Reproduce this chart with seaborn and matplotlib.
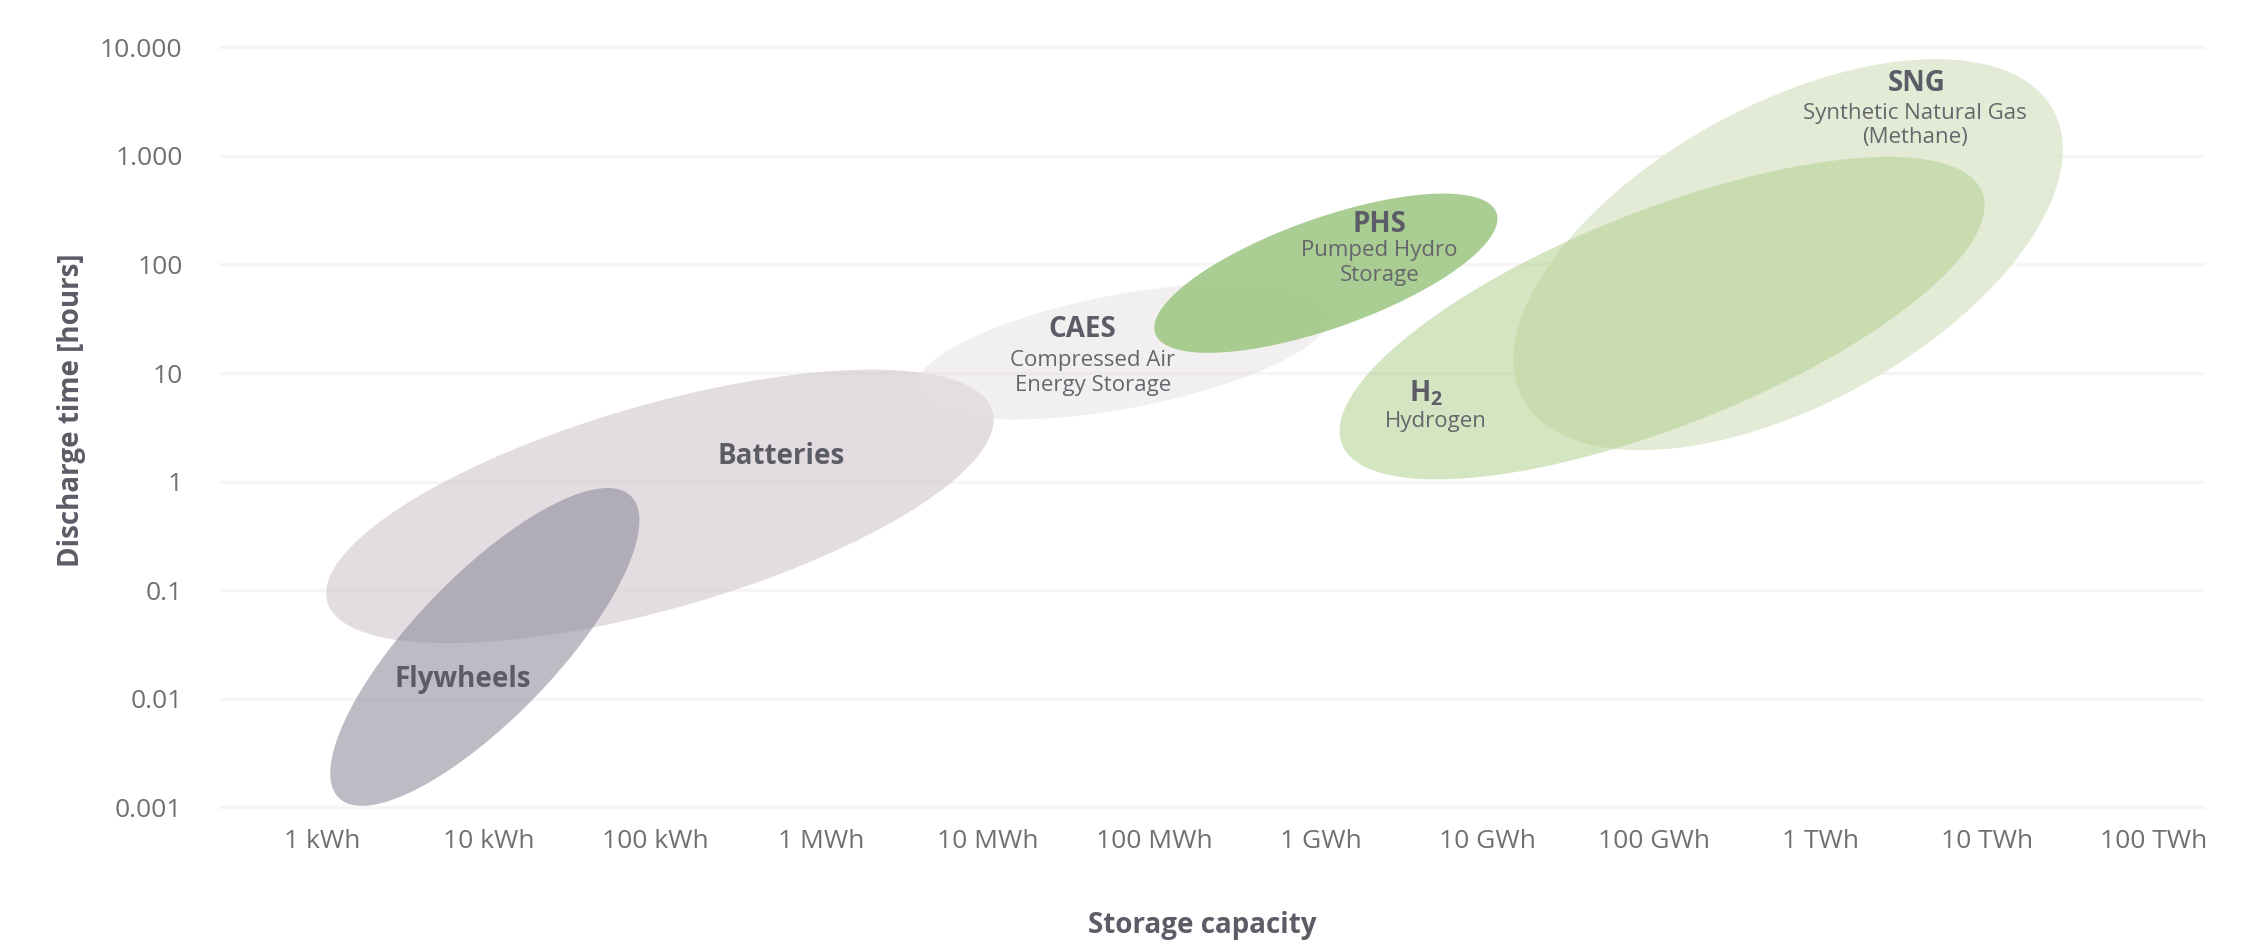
import numpy as np
import matplotlib
matplotlib.use("Agg")
import matplotlib.pyplot as plt
import seaborn as sns

# storage technologies: centre of each region (kWh, hours), shape in pixels
techs = ["Batteries", "CAES", "Flywheels", "PHS", "SNG", "H2"]
cap_centre = [107, 64600, 9.5, 1.07e6, 6.4e8, 1.12e8]       # kWh
time_centre = [0.59, 15.8, 0.03, 83, 123, 32]               # hours
semi_major = [346, 211, 210, 181, 302, 344]                 # px
semi_minor = [102, 57, 71, 55, 150, 108]                    # px
tilt = [16, 10.6, 46, 19.5, 28.6, 21.5]                     # degrees on screen
face = ["#d8ced3", "#e6e0e4", "#918f9e", "#a0c886", "#dde7cc", "#b2d090"]
alphas = [0.7, 0.5, 0.6, 0.9, 0.8, 0.55]

# labels: bold name + small description
names = ["Batteries", "CAES", "Flywheels", "PHS", "SNG", r"$\mathbf{H}_\mathbf{2}$"]
name_x = [575, 37000, 7, 2.24e6, 3.8e9, 4.25e6]
name_y = [1.7, 25, 0.015, 234, 4650, 6.5]
descr = ["", "Compressed Air\nEnergy Storage", "", "Pumped Hydro\nStorage",
         "Synthetic Natural Gas\n(Methane)", "Hydrogen"]
descr_x = [1, 42600, 1, 2.24e6, 3.7e9, 4.9e6]
descr_y = [1, 10, 1, 103, 1900, 3.6]

x_ticks = 10.0 ** np.arange(12)
x_labels = ["1 kWh", "10 kWh", "100 kWh", "1 MWh", "10 MWh", "100 MWh",
            "1 GWh", "10 GWh", "100 GWh", "1 TWh", "10 TWh", "100 TWh"]
y_ticks = 10.0 ** np.arange(-3, 5)
y_labels = ["0.001", "0.01", "0.1", "1", "10", "100", "1.000", "10.000"]

sns.set_theme(style="white")
plt.rcParams["font.family"] = ["Open Sans", "DejaVu Sans"]
plt.rcParams["mathtext.fontset"] = "custom"
plt.rcParams["mathtext.bf"] = "Open Sans:bold"
plt.rcParams["mathtext.rm"] = "Open Sans"

W, H = 2249, 944
fig = plt.figure(figsize=(W / 100, H / 100), dpi=100)
fig.patch.set_facecolor("white")
ax = fig.add_axes([220 / W, 1 - 829 / H, 1985 / W, 798 / H])
ax.set_xscale("log")
ax.set_yscale("log")
xlo, xhi = -0.613, 11.31
ylo, yhi = -3.2, 4.15
ax.set_xlim(10 ** xlo, 10 ** xhi)
ax.set_ylim(10 ** ylo, 10 ** yhi)

# pixels per decade, so the ellipses keep their on-screen shape
px_x = 1985 / (xhi - xlo)
px_y = 798 / (yhi - ylo)

t = np.linspace(0, 2 * np.pi, 300)
for i in range(len(techs)):
    th = np.radians(tilt[i])
    a, b = semi_major[i], semi_minor[i]
    dx = (a * np.cos(t) * np.cos(th) - b * np.sin(t) * np.sin(th)) / px_x
    dy = (a * np.cos(t) * np.sin(th) + b * np.sin(t) * np.cos(th)) / px_y
    xs = cap_centre[i] * 10 ** dx
    ys = time_centre[i] * 10 ** dy
    ax.fill(xs, ys, color=face[i], alpha=alphas[i], lw=0, zorder=2)

for i in range(len(techs)):
    ax.text(name_x[i], name_y[i], names[i], ha="center", va="center",
            fontsize=20, fontweight="bold", color="#5b5c66", zorder=5)
    if descr[i]:
        ax.text(descr_x[i], descr_y[i], descr[i], ha="center", va="center",
                fontsize=16, color="#66666c", linespacing=1.2, zorder=5)

ax.set_xticks(x_ticks)
ax.set_xticklabels(x_labels)
ax.set_yticks(y_ticks)
ax.set_yticklabels(y_labels)
ax.minorticks_off()
ax.tick_params(axis="x", length=0, pad=0, labelsize=19, labelcolor="#707070")
ax.tick_params(axis="y", length=0, pad=27, labelsize=19, labelcolor="#707070")
ax.yaxis.grid(True, color="#f6f4f4", lw=2.2)
ax.xaxis.grid(False)
ax.set_axisbelow(True)
for s in ax.spines.values():
    s.set_visible(False)

ax.set_xlabel("Storage capacity", fontsize=20, fontweight="bold", color="#5b5c66", va="center")
ax.xaxis.set_label_coords((1202 - 220) / 1985, -96 / 798)
ax.set_ylabel("Discharge time [hours]", fontsize=20, fontweight="bold", color="#5b5c66", va="center")
ax.yaxis.set_label_coords((72 - 220) / 1985, (829 - 410) / 798)

fig.savefig("out.png", dpi=100, facecolor="white")
